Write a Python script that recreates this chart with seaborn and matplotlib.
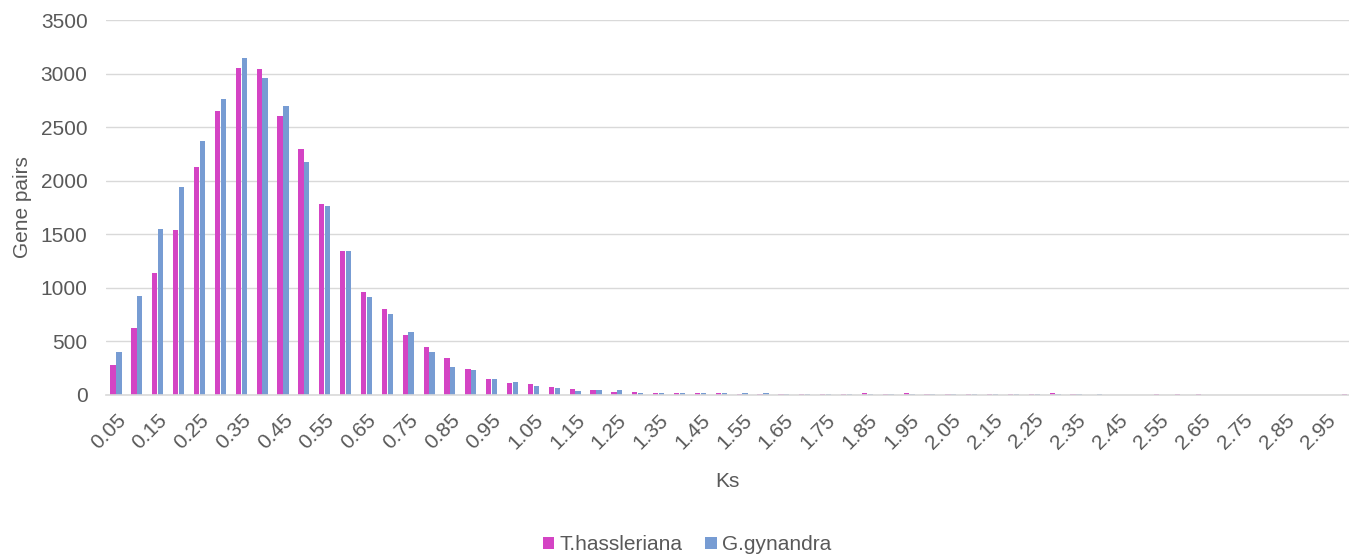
import matplotlib
matplotlib.use("Agg")
import matplotlib.pyplot as plt
import seaborn as sns
import pandas as pd

ks = ["0.05", "0.10", "0.15", "0.20", "0.25", "0.30", "0.35", "0.40", "0.45", "0.50",
      "0.55", "0.60", "0.65", "0.70", "0.75", "0.80", "0.85", "0.90", "0.95", "1.00",
      "1.05", "1.10", "1.15", "1.20", "1.25", "1.30", "1.35", "1.40", "1.45", "1.50",
      "1.55", "1.60", "1.65", "1.70", "1.75", "1.80", "1.85", "1.90", "1.95", "2.00",
      "2.05", "2.10", "2.15", "2.20", "2.25", "2.30", "2.35", "2.40", "2.45", "2.50",
      "2.55", "2.60", "2.65", "2.70", "2.75", "2.80", "2.85", "2.90", "2.95", "3.00"]

t_hassleriana = [277, 626, 1143, 1538, 2124, 2650, 3055, 3046, 2606, 2295,
                 1784, 1345, 962, 803, 556, 444, 350, 244, 153, 112,
                 103, 72, 59, 50, 31, 28, 22, 22, 19, 15,
                 12, 6, 14, 12, 14, 14, 16, 6, 16, 6,
                 6, 12, 5, 9, 9, 18, 9, 3, 3, 3,
                 6, 6, 5, 3, 4, 2, 2, 2, 2, 6]

g_gynandra = [402, 928, 1545, 1943, 2367, 2759, 3142, 2958, 2694, 2174,
              1763, 1342, 919, 755, 584, 406, 266, 234, 147, 122,
              87, 62, 34, 44, 44, 22, 16, 22, 16, 15,
              15, 16, 12, 9, 14, 14, 6, 6, 6, 12,
              6, 12, 5, 5, 6, 6, 9, 9, 3, 2,
              3, 2, 3, 2, 2, 2, 2, 1, 1, 2]

series_names = ["T.hassleriana", "G.gynandra"]
tick_labels = ks[::2]
y_ticks = [0, 500, 1000, 1500, 2000, 2500, 3000, 3500]

sns.set_style("white")
plt.rcParams["font.family"] = ["Liberation Sans", "DejaVu Sans"]

df = pd.DataFrame({
    "Ks": ks * 2,
    "Gene pairs": t_hassleriana + g_gynandra,
    "Species": [series_names[0]] * len(ks) + [series_names[1]] * len(ks),
})

W, H = 1349, 558
fig = plt.figure(figsize=(W / 100, H / 100), dpi=100)
left, right, top, bottom = 105.6, 1349, 20, 395
ax = fig.add_axes([left / W, 1 - bottom / H, (right - left) / W, (bottom - top) / H])

sns.barplot(data=df, x="Ks", y="Gene pairs", hue="Species", order=ks,
            hue_order=series_names, palette=["#D444C4", "#779CD3"],
            saturation=1, width=0.56, gap=0.1, linewidth=0, ax=ax)

ax.set_xlim(-0.5, 59.08)
ax.set_ylim(0, 3500)
ax.set_yticks(y_ticks)
ax.set_yticklabels([str(v) for v in y_ticks])
ax.set_xticks(range(0, len(ks), 2))
ax.set_xticklabels(tick_labels, rotation=45, ha="right", va="top", rotation_mode="anchor")

ax.yaxis.grid(True, color="#D9D9D9", lw=1)
ax.xaxis.grid(False)
ax.set_axisbelow(True)
for s in ["top", "right", "left"]:
    ax.spines[s].set_visible(False)
ax.spines["bottom"].set_color("#D9D9D9")
ax.spines["bottom"].set_linewidth(1.2)

ax.tick_params(axis="both", length=0, colors="#595959", labelsize=15)
ax.tick_params(axis="y", pad=13)
ax.tick_params(axis="x", pad=11)

ax.set_ylabel("Gene pairs", fontsize=15, color="#595959")
ax.set_xlabel("Ks", fontsize=15, color="#595959")
ax.yaxis.set_label_coords((32 - left) / (right - left), 0.5)
ax.xaxis.set_label_coords((727 - left) / (right - left), (bottom - 472) / (bottom - top))

handles, labels = ax.get_legend_handles_labels()
ax.get_legend().remove()
fig.legend(handles, labels, loc="center", bbox_to_anchor=(687 / W, 1 - 545 / H),
           ncol=2, frameon=False, fontsize=15, handlelength=0.55, handleheight=0.55,
           handletextpad=0.25, columnspacing=1.1, labelcolor="#595959")

fig.savefig("out.png", dpi=100)
